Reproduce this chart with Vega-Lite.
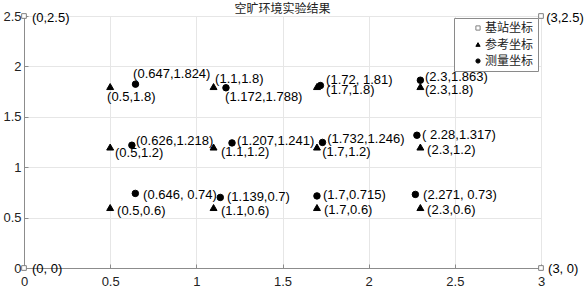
{
  "$schema": "https://vega.github.io/schema/vega-lite/v6.json",
  "autosize": {"type": "none"},
  "padding": {"left": 24, "top": 16, "right": 43, "bottom": 20},
  "width": 517,
  "height": 252,
  "background": "white",
  "config": {
    "view": {"stroke": null},
    "font": "Liberation Sans",
    "legend": {"strokeColor": "#8a8a8a", "strokeWidth": 1, "fillColor": "white"}
  },
  "title": {
    "text": "空旷环境实验结果",
    "font": "Noto Sans CJK SC",
    "fontSize": 12,
    "fontWeight": "normal",
    "color": "#222",
    "offset": 1,
    "dy": 7
  },
  "data": {
    "values": [
      {"x": 0, "y": 2.5, "type": "基站坐标", "label": "(0,2.5)", "lx": 0.046, "ly": 2.48},
      {"x": 0, "y": 0, "type": "基站坐标", "label": "(0,  0)", "lx": 0.046, "ly": -0.005},
      {"x": 3, "y": 0, "type": "基站坐标", "label": "(3,  0)", "lx": 3.041, "ly": -0.005},
      {"x": 3, "y": 2.5, "type": "基站坐标", "label": "(3,2.5)", "lx": 3.03, "ly": 2.48},
      {"x": 0.5, "y": 1.8, "type": "参考坐标", "label": "(0.5,1.8)", "lx": 0.482, "ly": 1.698},
      {"x": 1.1, "y": 1.8, "type": "参考坐标", "label": "(1.1,1.8)", "lx": 1.109, "ly": 1.876},
      {"x": 1.7, "y": 1.8, "type": "参考坐标", "label": "(1.7,1.8)", "lx": 1.753, "ly": 1.767},
      {"x": 2.3, "y": 1.8, "type": "参考坐标", "label": "(2.3,1.8)", "lx": 2.327, "ly": 1.767},
      {"x": 0.5, "y": 1.2, "type": "参考坐标", "label": "(0.5,1.2)", "lx": 0.528, "ly": 1.144},
      {"x": 1.1, "y": 1.2, "type": "参考坐标", "label": "(1.1,1.2)", "lx": 1.143, "ly": 1.153},
      {"x": 1.7, "y": 1.2, "type": "参考坐标", "label": "(1.7,1.2)", "lx": 1.73, "ly": 1.153},
      {"x": 2.3, "y": 1.2, "type": "参考坐标", "label": "(2.3,1.2)", "lx": 2.339, "ly": 1.173},
      {"x": 0.5, "y": 0.6, "type": "参考坐标", "label": "(0.5,0.6)", "lx": 0.54, "ly": 0.569},
      {"x": 1.1, "y": 0.6, "type": "参考坐标", "label": "(1.1,0.6)", "lx": 1.143, "ly": 0.569},
      {"x": 1.7, "y": 0.6, "type": "参考坐标", "label": "(1.7,0.6)", "lx": 1.741, "ly": 0.579},
      {"x": 2.3, "y": 0.6, "type": "参考坐标", "label": "(2.3,0.6)", "lx": 2.339, "ly": 0.579},
      {"x": 0.647, "y": 1.824, "type": "测量坐标", "label": "(0.647,1.824)", "lx": 0.633, "ly": 1.926},
      {"x": 1.172, "y": 1.788, "type": "测量坐标", "label": "(1.172,1.788)", "lx": 1.167, "ly": 1.698},
      {"x": 1.72, "y": 1.81, "type": "测量坐标", "label": "(1.72, 1.81)", "lx": 1.753, "ly": 1.866},
      {"x": 2.3, "y": 1.863, "type": "测量坐标", "label": "(2.3,1.863)", "lx": 2.327, "ly": 1.896},
      {"x": 0.626, "y": 1.218, "type": "测量坐标", "label": "(0.626,1.218)", "lx": 0.65, "ly": 1.262},
      {"x": 1.207, "y": 1.241, "type": "测量坐标", "label": "(1.207,1.241)", "lx": 1.236, "ly": 1.262},
      {"x": 1.732, "y": 1.246, "type": "测量坐标", "label": "(1.732,1.246)", "lx": 1.759, "ly": 1.282},
      {"x": 2.28, "y": 1.317, "type": "测量坐标", "label": "( 2.28,1.317)", "lx": 2.31, "ly": 1.322},
      {"x": 0.646, "y": 0.74, "type": "测量坐标", "label": "(0.646, 0.74)", "lx": 0.691, "ly": 0.728},
      {"x": 1.139, "y": 0.7, "type": "测量坐标", "label": "(1.139,0.7)", "lx": 1.178, "ly": 0.708},
      {"x": 1.7, "y": 0.715, "type": "测量坐标", "label": "(1.7,0.715)", "lx": 1.735, "ly": 0.728},
      {"x": 2.271, "y": 0.73, "type": "测量坐标", "label": "(2.271, 0.73)", "lx": 2.316, "ly": 0.728}
    ]
  },
  "encoding": {
    "x": {
      "field": "x", "type": "quantitative",
      "scale": {"domain": [0, 3], "nice": false, "zero": false},
      "axis": {
        "title": null,
        "values": [0, 0.5, 1, 1.5, 2, 2.5, 3],
        "format": "~g",
        "grid": true, "gridColor": "#e6e6e6",
        "domainColor": "#8c8c8c", "tickColor": "#8c8c8c",
        "tickSize": -4, "labelPadding": 11,
        "labelFontSize": 13, "labelColor": "#222",
        "labelFont": "Liberation Sans",
        "labelFlush": false, "labelOverlap": false
      }
    },
    "y": {
      "field": "y", "type": "quantitative",
      "scale": {"domain": [0, 2.5], "nice": false, "zero": false},
      "axis": {
        "title": null,
        "values": [0, 0.5, 1, 1.5, 2, 2.5],
        "format": "~g",
        "grid": true, "gridColor": "#e6e6e6",
        "domainColor": "#8c8c8c", "tickColor": "#8c8c8c",
        "tickSize": -4, "labelPadding": 7,
        "labelFontSize": 13, "labelColor": "#222",
        "labelFont": "Liberation Sans",
        "labelFlush": false, "labelOverlap": false
      }
    }
  },
  "layer": [
    {
      "transform": [{"filter": "datum.type === '基站坐标'"}],
      "mark": {"type": "point", "filled": true, "strokeWidth": 1, "opacity": 1, "size": 22},
      "encoding": {
        "shape": {
          "field": "type", "type": "nominal",
          "scale": {"domain": ["基站坐标", "参考坐标", "测量坐标"], "range": ["square", "triangle-up", "circle"]},
          "legend": {
            "title": null,
            "orient": "none",
            "legendX": 430,
            "legendY": 2,
            "strokeColor": "#8a8a8a",
            "fillColor": "white",
            "padding": 4,
            "symbolSize": 18,
            "symbolStrokeWidth": 1,
            "labelFont": "Noto Sans CJK SC",
            "labelFontSize": 12,
            "labelColor": "#222",
            "labelOffset": 1,
            "rowPadding": 4.5,
            "symbolOffset": 14
          }
        },
        "fill": {
          "field": "type", "type": "nominal",
          "scale": {"domain": ["基站坐标", "参考坐标", "测量坐标"], "range": ["white", "black", "black"]}
        },
        "stroke": {
          "field": "type", "type": "nominal",
          "scale": {"domain": ["基站坐标", "参考坐标", "测量坐标"], "range": ["#808080", "black", "black"]}
        }
      }
    },
    {
      "transform": [{"filter": "datum.type === '参考坐标'"}],
      "mark": {"type": "point", "filled": true, "strokeWidth": 1, "opacity": 1, "size": 48},
      "encoding": {
        "shape": {"field": "type", "type": "nominal"},
        "fill": {"field": "type", "type": "nominal"},
        "stroke": {"field": "type", "type": "nominal"}
      }
    },
    {
      "transform": [{"filter": "datum.type === '测量坐标'"}],
      "mark": {"type": "point", "filled": true, "strokeWidth": 1, "opacity": 1, "size": 42},
      "encoding": {
        "shape": {"field": "type", "type": "nominal"},
        "fill": {"field": "type", "type": "nominal"},
        "stroke": {"field": "type", "type": "nominal"}
      }
    },
    {
      "mark": {"type": "text", "align": "left", "baseline": "middle", "fontSize": 13, "font": "Liberation Sans", "color": "black"},
      "encoding": {
        "x": {"field": "lx", "type": "quantitative"},
        "y": {"field": "ly", "type": "quantitative"},
        "text": {"field": "label", "type": "nominal"}
      }
    }
  ]
}
